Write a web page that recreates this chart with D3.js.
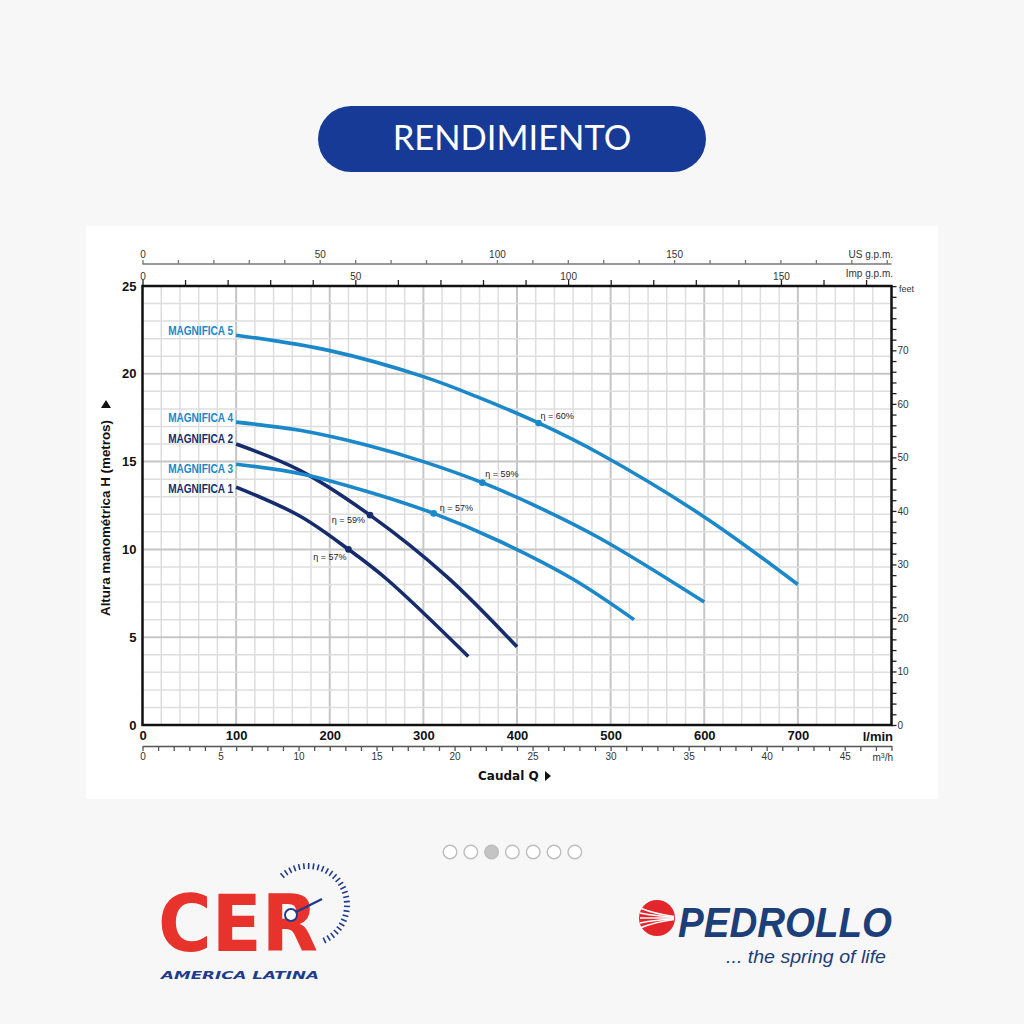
<!DOCTYPE html>
<html><head><meta charset="utf-8">
<script src="https://cdn.jsdelivr.net/npm/d3@7"></script>
<style>html,body{margin:0;padding:0;background:#f7f7f7;} svg{display:block}</style>
</head><body>
<svg id="c" width="1024" height="1024"></svg>
<script>
// ---------------- data ----------------
const seriesNames = ["MAGNIFICA 1","MAGNIFICA 2","MAGNIFICA 3","MAGNIFICA 4","MAGNIFICA 5"];
const m1Q = [100,168,220,261,348],               m1H = [13.55,11.9,10.0,8.3,3.9];
const m2Q = [100,168,243,325,400],               m2H = [16.0,14.5,11.95,8.45,4.45];
const m3Q = [100,170,240,311,382,460,525],       m3H = [14.85,14.3,13.3,12.05,10.45,8.3,6.0];
const m4Q = [100,168,240,300,363,417,489,600],   m4H = [17.25,16.78,15.93,15.0,13.8,12.55,10.62,7.0];
const m5Q = [100,200,300,357,423,489,600,700],   m5H = [22.2,21.32,19.84,18.7,17.2,15.43,11.85,8.0];
const effQ = [220,243,311,363,423];
const effH = [10.0,11.95,12.05,13.8,17.2];
const effLabels = ["η = 57%","η = 59%","η = 57%","η = 59%","η = 60%"];
const lminTicks = [0,100,200,300,400,500,600,700];
const headTicks = [0,5,10,15,20,25];
const feetTicks = [0,10,20,30,40,50,60,70];
const m3hTicks = [0,5,10,15,20,25,30,35,40,45];
const usgpmTicks = [0,50,100,150];
const impgpmTicks = [0,50,100,150];

// ---------------- styling ----------------
const light = "#1b88c9", dark = "#172c6c";
const seriesColors = [dark, dark, light, light, light];
const legendDy = [6,-1,9,0,0];
const effDx = [-2,-5,6,3,2], effDy = [11,8,-2,-6,-4], effAnchor = ["end","end","start","start","start"];
const seriesQ = [m1Q,m2Q,m3Q,m4Q,m5Q], seriesH = [m1H,m2H,m3H,m4H,m5H];

const svg = d3.select("#c");
const F = "'Liberation Sans', Arial, sans-serif";

// Title pill
svg.append("rect").attr("x",318).attr("y",106).attr("width",388).attr("height",66).attr("rx",33).attr("fill","#163a96");
svg.append("text").attr("x",512).attr("y",150).attr("text-anchor","middle").attr("fill","#fff")
  .style("font-family","Lato, sans-serif").style("font-size","34.5px").text("RENDIMIENTO");

// panel
svg.append("rect").attr("x",86).attr("y",226).attr("width",852).attr("height",573).attr("fill","#fff");

const x = d3.scaleLinear().domain([0,800]).range([142.5,891.5]);
const y = d3.scaleLinear().domain([0,25]).range([725,286]);
const yFeet = d3.scaleLinear().domain([0,25/0.3048]).range([725,286]);
const xUS = d3.scaleLinear().domain([0,800/3.78541]).range([142.5,891.5]);
const xImp = d3.scaleLinear().domain([0,800/4.54609]).range([142.5,891.5]);
const xM3 = d3.scaleLinear().domain([0,48]).range([142.5,891.5]);

// grid
const g = svg.append("g");
d3.range(20,800,20).forEach(v=>{
  const major = v%100===0;
  g.append("line").attr("x1",x(v)).attr("x2",x(v)).attr("y1",y(0)).attr("y2",y(25))
   .attr("stroke", major?"#c6c6c6":"#dedede").attr("stroke-width", major?2:1.5);
});
d3.range(1,25,1).forEach(v=>{
  const major = v%5===0;
  g.append("line").attr("x1",x(0)).attr("x2",x(800)).attr("y1",y(v)).attr("y2",y(v))
   .attr("stroke", major?"#c6c6c6":"#dedede").attr("stroke-width", major?2:1.5);
});

// top US gpm axis
const usAxis = d3.axisTop(xUS).tickValues(d3.range(0,211,10)).tickSize(4).tickSizeOuter(0)
  .tickFormat(d=>usgpmTicks.includes(d)?d:"");
const gUS = svg.append("g").attr("transform","translate(0,264)").call(usAxis);
gUS.selectAll("path,line").attr("stroke","#777").attr("stroke-width",1.3);
gUS.selectAll("text").attr("fill","#333").style("font-family",F).style("font-size","10px").attr("dy","0.1em");
gUS.select(".domain").attr("d",`M${x(0)},0H${x(800)}`);
svg.append("text").attr("x",893).attr("y",258).attr("text-anchor","end").attr("fill","#333")
  .style("font-family",F).style("font-size","10px").text("US g.p.m.");

// Imp gpm axis (on plot top border)
const impAxis = d3.axisTop(xImp).tickValues(d3.range(0,171,10)).tickSize(6).tickSizeOuter(0)
  .tickFormat(d=>impgpmTicks.includes(d)?d:"");
const gImp = svg.append("g").attr("transform","translate(0,286)").call(impAxis);
gImp.select(".domain").remove();
gImp.selectAll("line").attr("stroke","#222").attr("stroke-width",1.3);
gImp.selectAll("text").attr("fill","#333").style("font-family",F).style("font-size","10px").attr("dy","0.3em");
svg.append("text").attr("x",893).attr("y",277).attr("text-anchor","end").attr("fill","#333")
  .style("font-family",F).style("font-size","10px").text("Imp g.p.m.");

// right feet axis
const feetAxis = d3.axisRight(yFeet).tickValues(d3.range(0,83,2)).tickSize(5).tickSizeOuter(0).tickPadding(1)
  .tickFormat(d=>feetTicks.includes(d)?d:"");
const gFt = svg.append("g").attr("transform",`translate(${x(800)},0)`).call(feetAxis);
gFt.select(".domain").remove();
gFt.selectAll("line").attr("stroke","#222").attr("stroke-width",1.3);
gFt.selectAll("text").attr("fill","#333").style("font-family",F).style("font-size","10px");
svg.append("text").attr("x",899).attr("y",292).attr("fill","#333").style("font-family",F).style("font-size","9px").text("feet");

// left head axis labels
const leftAxis = d3.axisLeft(y).tickValues(headTicks).tickSize(0).tickPadding(6);
const gL = svg.append("g").attr("transform",`translate(${x(0)},0)`).call(leftAxis);
gL.select(".domain").remove();
gL.selectAll("text").attr("fill","#111").style("font-family",F).style("font-size","13px").style("font-weight","bold");

// bottom l/min labels
const botAxis = d3.axisBottom(x).tickValues(lminTicks).tickSize(0).tickPadding(6);
const gB = svg.append("g").attr("transform",`translate(0,${y(0)})`).call(botAxis);
gB.select(".domain").remove();
gB.selectAll("text").attr("fill","#111").style("font-family",F).style("font-size","13px").style("font-weight","bold");
svg.append("text").attr("x",893).attr("y",741).attr("text-anchor","end").attr("fill","#111")
  .style("font-family",F).style("font-size","13px").style("font-weight","bold").text("l/min");

// m3/h axis
const m3Axis = d3.axisBottom(xM3).tickValues(d3.range(0,49,1)).tickSize(5).tickSizeOuter(0).tickPadding(2)
  .tickFormat(d=>m3hTicks.includes(d)?d:"");
const gM = svg.append("g").attr("transform","translate(0,746)").call(m3Axis);
gM.selectAll("path,line").attr("stroke","#555").attr("stroke-width",1.3);
gM.selectAll("text").attr("fill","#333").style("font-family",F).style("font-size","10px");
svg.append("text").attr("x",893).attr("y",761).attr("text-anchor","end").attr("fill","#333")
  .style("font-family",F).style("font-size","10px").html("m<tspan font-size='7px' dy='-3'>3</tspan><tspan dy='3'>/h</tspan>");

// plot border
svg.append("rect").attr("x",x(0)).attr("y",y(25)).attr("width",x(800)-x(0)).attr("height",y(0)-y(25))
  .attr("fill","none").attr("stroke","#111").attr("stroke-width",2.5);

// axis titles
svg.append("text").attr("x",478).attr("y",780).attr("fill","#111").style("font-family","'DejaVu Sans', sans-serif")
  .style("font-size","12px").style("font-weight","bold").text("Caudal  Q");
svg.append("path").attr("d","M545,771 L551,776 L545,781 Z").attr("fill","#111");
svg.append("text").attr("transform","translate(110,518) rotate(-90)").attr("text-anchor","middle").attr("fill","#111")
  .attr("textLength",196).attr("lengthAdjust","spacingAndGlyphs")
  .style("font-family",F).style("font-size","12.5px").style("font-weight","bold").text("Altura manométrica H (metros)");
svg.append("path").attr("d","M101,408 L106,400 L111,408 Z").attr("fill","#111");

// curves
const line = d3.line().x(d=>x(d[0])).y(d=>y(d[1])).curve(d3.curveCatmullRom.alpha(0.5));
seriesNames.forEach((name,i)=>{
  const pts = seriesQ[i].map((q,j)=>[q,seriesH[i][j]]);
  svg.append("path").attr("d",line(pts)).attr("fill","none").attr("stroke",seriesColors[i])
    .attr("stroke-width",3.6).attr("stroke-linecap","butt");
  svg.append("text").attr("x",x(seriesQ[i][0])-3).attr("y",y(seriesH[i][0])+legendDy[i])
    .attr("text-anchor","end").attr("fill",seriesColors[i])
    .attr("textLength",65).attr("lengthAdjust","spacingAndGlyphs")
    .style("font-family",F).style("font-size","12px").style("font-weight","bold").text(name);
  svg.append("circle").attr("cx",x(effQ[i])).attr("cy",y(effH[i])).attr("r",3.3).attr("fill",seriesColors[i]);
  svg.append("text").attr("x",x(effQ[i])+effDx[i]).attr("y",y(effH[i])+effDy[i]).attr("text-anchor",effAnchor[i])
    .attr("fill","#222").style("font-family",F).style("font-size","9px").text(effLabels[i]);
});

// pagination dots
d3.range(7).forEach(i=>{
  svg.append("circle").attr("cx",450+i*20.8).attr("cy",852).attr("r",6.8)
    .attr("fill", i===2?"#c4c4c4":"#fff").attr("stroke","#bdbdbd").attr("stroke-width",1.4);
});

// CER logo
const cer = svg.append("g");
cer.append("text").attr("x",158).attr("y",951).attr("fill","#e8332c").attr("textLength",160).attr("lengthAdjust","spacingAndGlyphs")
  .style("font-family","'DejaVu Sans', sans-serif").style("font-size","78px").style("font-weight","bold").text("CER");
cer.append("text").attr("x",161).attr("y",979).attr("fill","#1f3c8c").attr("textLength",158).attr("lengthAdjust","spacingAndGlyphs")
  .style("font-family","'DejaVu Sans', sans-serif").style("font-size","11px").style("font-weight","bold").style("font-style","italic").text("AMERICA LATINA");
d3.range(-131,70,7).forEach(a=>{
  const r=a*Math.PI/180, c=[308,905];
  cer.append("line").attr("x1",c[0]+36*Math.cos(r)).attr("y1",c[1]+36*Math.sin(r))
    .attr("x2",c[0]+42*Math.cos(r)).attr("y2",c[1]+42*Math.sin(r)).attr("stroke","#1f3c8c").attr("stroke-width",1.6);
});
cer.append("line").attr("x1",296).attr("y1",912).attr("x2",322).attr("y2",899).attr("stroke","#1f3c8c").attr("stroke-width",2.5);
cer.append("circle").attr("cx",291).attr("cy",915).attr("r",6).attr("fill","#fff").attr("stroke","#1f3c8c").attr("stroke-width",2);

// Pedrollo logo
const pd = svg.append("g");
pd.append("circle").attr("cx",657).attr("cy",918).attr("r",18).attr("fill","#e3262b");
[-10,-5,0,5,10].forEach(dy=>{
  pd.append("path").attr("d",`M640,${918+dy} Q655,${918+dy*0.4} 674,${918+dy*0.15}`).attr("stroke","#fff").attr("stroke-width",1.6).attr("fill","none");
});
pd.append("text").attr("x",678).attr("y",937).attr("fill","#1c3f7a").attr("textLength",214).attr("lengthAdjust","spacingAndGlyphs")
  .style("font-family","'Liberation Sans', Arial, sans-serif").style("font-size","43px").style("font-weight","bold").style("font-style","italic").text("PEDROLLO");
pd.append("text").attr("x",726).attr("y",963).attr("fill","#1c3f7a").attr("textLength",160).attr("lengthAdjust","spacingAndGlyphs")
  .style("font-family","'Liberation Sans', Arial, sans-serif").style("font-size","19px").style("font-style","italic").text("... the spring of life");
</script>
</body></html>
